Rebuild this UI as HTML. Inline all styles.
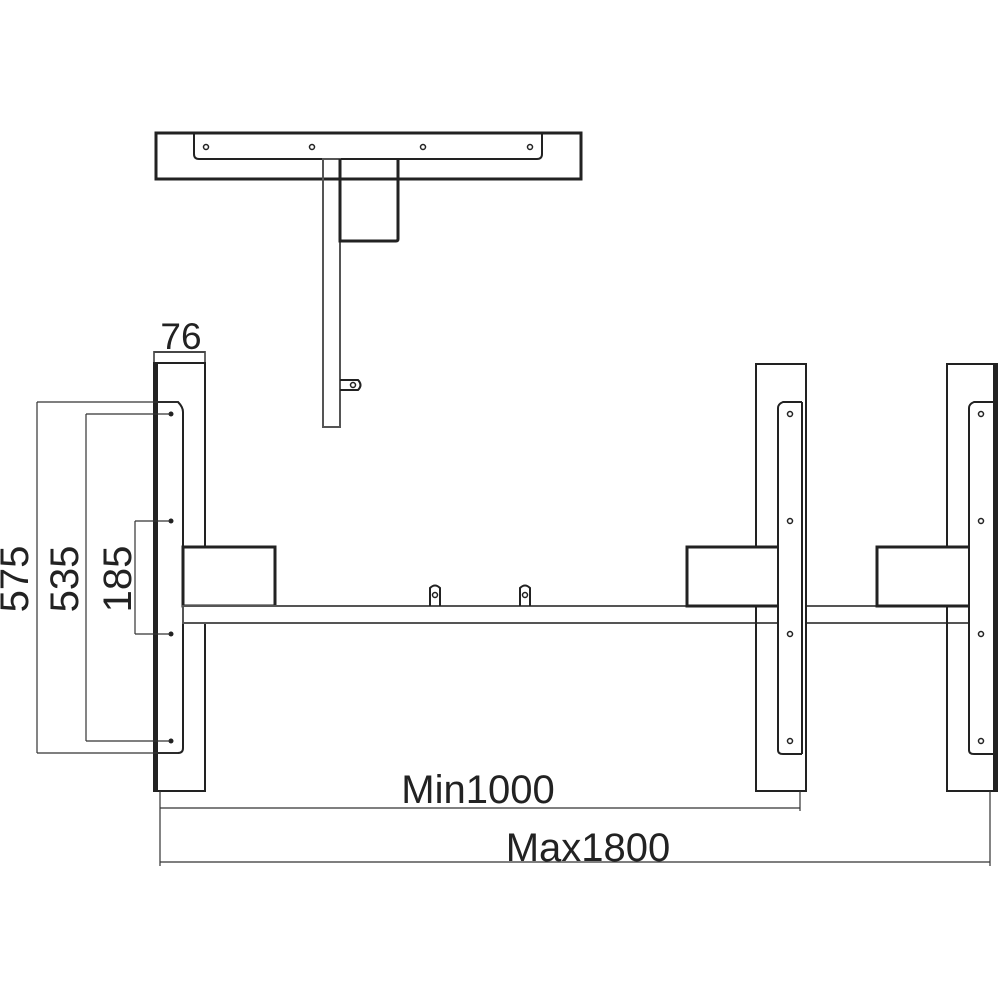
<!DOCTYPE html>
<html><head><style>body{margin:0;background:#fff}svg{display:block}</style></head><body>
<svg width="1000" height="1000" viewBox="0 0 1000 1000" xmlns="http://www.w3.org/2000/svg" font-family="Liberation Sans, sans-serif">
<g fill="none" stroke="#222" stroke-width="2">
<rect x="156" y="133" width="425" height="46" stroke-width="3"/>
<path d="M194 134 V154 Q194 159 199 159 H537 Q542 159 542 154 V134"/>
<rect x="323" y="159" width="17" height="268" stroke="#555"/>
<path d="M340 159 V241 H396 Q398 241 398 239 V159" stroke-width="3"/>
<path d="M340 380 H358 Q363 385 358 390 H340"/>
<rect x="154" y="352" width="51" height="11" stroke="#666"/>
<rect x="154" y="363" width="51" height="428"/>
<line x1="156" y1="363" x2="156" y2="791" stroke-width="4"/>
<path d="M158 402 H178 Q183 407 183 412 V748 Q183 753 178 753 H158"/>
<rect x="183" y="547" width="92" height="59" stroke-width="3" fill="#fff"/>
<rect x="183" y="606" width="597" height="17" stroke="#555" fill="#fff"/>
<rect x="806" y="606" width="164" height="17" stroke="#555" fill="#fff"/>
<path d="M430 606 V588 Q435 583 440 588 V606 M520 606 V588 Q525 583 530 588 V606"/>
<rect x="756" y="364" width="50" height="427"/>
<rect x="687" y="547" width="93" height="59" stroke-width="3" fill="#fff"/>
<path d="M802 402 H783 Q778 404 778 408 V750 Q778 754 783 754 H802" fill="#fff"/>
<line x1="802" y1="402" x2="802" y2="754"/>
<rect x="947" y="364" width="50" height="427"/>
<line x1="995" y1="364" x2="995" y2="791" stroke-width="4"/>
<rect x="877" y="547" width="93" height="59" stroke-width="3" fill="#fff"/>
<path d="M993 402 H974 Q969 404 969 408 V750 Q969 754 974 754 H993" fill="#fff"/>
</g>
<g fill="#fff" stroke="#222" stroke-width="1.5">
<circle cx="206" cy="147" r="2.5"/><circle cx="312" cy="147" r="2.5"/><circle cx="423" cy="147" r="2.5"/><circle cx="530" cy="147" r="2.5"/>
<circle cx="353" cy="385" r="2.5"/>
<circle cx="435" cy="595" r="2.5"/><circle cx="525" cy="595" r="2.5"/>
<circle cx="790" cy="414" r="2.5"/><circle cx="790" cy="521" r="2.5"/><circle cx="790" cy="634" r="2.5"/><circle cx="790" cy="741" r="2.5"/>
<circle cx="981" cy="414" r="2.5"/><circle cx="981" cy="521" r="2.5"/><circle cx="981" cy="634" r="2.5"/><circle cx="981" cy="741" r="2.5"/>
</g>
<g fill="#222"><circle cx="171" cy="414" r="2.5"/><circle cx="171" cy="521" r="2.5"/><circle cx="171" cy="634" r="2.5"/><circle cx="171" cy="741" r="2.5"/></g>
<g fill="none" stroke="#333" stroke-width="1.2">
<path d="M37 402 V753 M37 402 H178 M37 753 H178"/>
<path d="M86 414 V741 M86 414 H170 M86 741 H170"/>
<path d="M135 521 V634 M135 521 H170 M135 634 H170"/>
<path d="M160 791 V866 M800 791 V811 M990 791 V866 M160 808 H800 M160 862 H990"/>
<path d="M154 352 H205"/>
</g>
<g fill="#222" font-size="40">
<text x="181" y="349" text-anchor="middle" font-size="37">76</text>
<text transform="translate(28 579) rotate(-90)" text-anchor="middle">575</text>
<text transform="translate(78 579) rotate(-90)" text-anchor="middle">535</text>
<text transform="translate(131 579) rotate(-90)" text-anchor="middle">185</text>
<text x="478" y="803" text-anchor="middle">Min1000</text>
<text x="588" y="861" text-anchor="middle">Max1800</text>
</g>
</svg>
</body></html>
